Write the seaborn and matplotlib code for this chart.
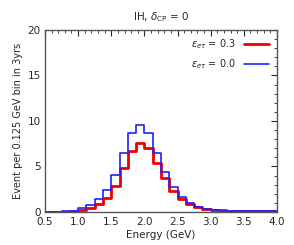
import matplotlib
matplotlib.use("Agg")
import matplotlib.pyplot as plt
import seaborn as sns
import numpy as np
import pandas as pd
from matplotlib.ticker import MultipleLocator

# bin edges, 0.125 GeV wide
edges = np.arange(0.5, 4.0001, 0.125)
centers = edges[:-1] + 0.0625

# events per bin
eps_03 = [0.02, 0.03, 0.04, 0.08, 0.2, 0.4, 0.84, 1.57, 2.9, 4.8, 6.7, 7.6, 7.0, 5.4,
          3.7, 2.35, 1.43, 0.88, 0.5, 0.3, 0.22, 0.15, 0.12, 0.1, 0.08, 0.07, 0.06, 0.05]
eps_00 = [0.02, 0.03, 0.06, 0.15, 0.4, 0.73, 1.39, 2.4, 4.07, 6.5, 8.65, 9.56, 8.65, 6.5,
          4.35, 2.7, 1.6, 1.0, 0.5, 0.35, 0.25, 0.2, 0.15, 0.12, 0.1, 0.08, 0.06, 0.05]

df03 = pd.DataFrame({"E": centers, "n": eps_03})
df00 = pd.DataFrame({"E": centers, "n": eps_00})

sns.set_style("white")
plt.rcParams['font.family'] = ['DejaVu Sans']

fig = plt.figure(figsize=(2.94, 2.45), dpi=100)
ax = fig.add_axes([0.153, 0.135, 0.789, 0.743])

sns.histplot(data=df03, x="E", weights="n", bins=list(edges), element="step", fill=False,
             color="#ee0000", linewidth=2.0, ax=ax, label=r"$\epsilon_{e\tau}$ = 0.3")
sns.histplot(data=df00, x="E", weights="n", bins=list(edges), element="step", fill=False,
             color="#2020ff", linewidth=1.2, ax=ax, label=r"$\epsilon_{e\tau}$ = 0.0")

ax.set_xlim(0.5, 4)
ax.set_ylim(0, 20)
ax.xaxis.set_major_locator(MultipleLocator(0.5))
ax.xaxis.set_minor_locator(MultipleLocator(0.1))
ax.yaxis.set_major_locator(MultipleLocator(5))
ax.yaxis.set_minor_locator(MultipleLocator(1))
ax.tick_params(which="both", direction="in", top=True, right=True, labelsize=7.5)
ax.tick_params(axis="x", pad=4)
ax.tick_params(axis="y", pad=3)
ax.tick_params(which="major", length=4, width=0.8)
ax.tick_params(which="minor", length=2, width=0.6)
for s in ax.spines.values():
    s.set_color("#555555")
    s.set_linewidth(1.0)

ax.set_xlabel("Energy (GeV)", fontsize=7.5, labelpad=2)
ax.set_ylabel("Event per 0.125 GeV bin in 3yrs", fontsize=7, labelpad=3)
ax.set_title(r"IH, $\delta_{\mathrm{CP}}$ = 0", fontsize=7.5, pad=7)

ax.legend(loc="upper right", frameon=False, markerfirst=False, fontsize=7,
          handlelength=2.6, borderaxespad=0.4, labelspacing=0.6)

fig.savefig("out.png", dpi=100)
